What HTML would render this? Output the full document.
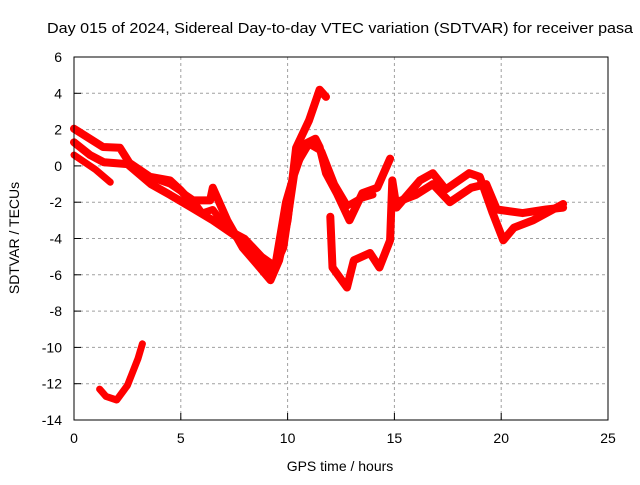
<!DOCTYPE html>
<html><head><meta charset="utf-8"><style>
body{margin:0;background:#fff}
svg text{font-family:"Liberation Sans",sans-serif;font-size:14px;fill:#000}
</style></head><body>
<svg id="chart" width="640" height="480" viewBox="0 0 640 480" xmlns="http://www.w3.org/2000/svg">
<text x="47" y="33" textLength="586" lengthAdjust="spacingAndGlyphs" style="font-size:15px">Day 015 of 2024, Sidereal Day-to-day VTEC variation (SDTVAR) for receiver pasa</text>
<text x="340" y="471" text-anchor="middle">GPS time / hours</text>
<text transform="translate(19,238) rotate(-90)" text-anchor="middle">SDTVAR / TECUs</text>
<g id="grid"></g><g id="marks"></g>
<rect x="74" y="57" width="534" height="363" fill="none" stroke="#000" stroke-width="1"/>
</svg>
<script>
const xTicks=[0,5,10,15,20,25];
const yTicks=[6,4,2,0,-2,-4,-6,-8,-10,-12,-14];
const bandUpperH=[0,1.36,2.15,2.6,3.56,4.5,4.96,5.43,6.37,6.5,7.17,7.9,8.7,9.2,9.6,10.0,10.4,11.0,11.5,11.8];
const bandUpperV=[2.05,1.04,1.0,0.16,-0.6,-0.8,-1.3,-1.9,-1.9,-1.2,-3.0,-4.5,-5.6,-6.3,-5.2,-3.0,1.0,2.5,4.2,3.8];
const bandMidH=[0,0.75,1.4,2.5,3.6,4.5,5.5,6.5,7.5,8.5,9.3,9.8,10.3,10.8,11.3,11.5,11.8,12.3,12.9,13.5,14.2,14.8];
const bandMidV=[1.3,0.6,0.2,0.1,-1.0,-1.6,-2.3,-3.0,-3.8,-4.8,-5.8,-4.5,-0.5,1.2,1.5,1.04,-0.4,-1.5,-3.0,-1.5,-1.2,0.4];
const bandThirdH=[2.5,3.5,4.5,5.5,6.0,6.5,7.2,8.0,8.8,9.4,9.9,10.4,11.0,11.6,12.2,12.8,13.4,14.0];
const bandThirdV=[0.2,-0.6,-1.0,-1.8,-2.6,-2.4,-3.5,-4.0,-5.0,-5.5,-2.0,0.0,1.2,0.8,-1.0,-2.2,-1.8,-1.6];
const bandLowH=[0,1,1.7];
const bandLowV=[0.6,-0.2,-0.9];
const dropH=[12.0,12.1,12.78,13.1,13.86,14.3,14.8,14.9,15.1,16.2,16.8,17.4,18.5,19.0,19.6,20.1,20.6,21.5,22.9];
const dropV=[-2.8,-5.6,-6.7,-5.2,-4.8,-5.6,-4.1,-0.8,-2.3,-0.8,-0.4,-1.3,-0.4,-0.6,-2.6,-4.1,-3.4,-3.0,-2.1];
const tailH=[15.1,16.0,16.8,17.6,18.6,19.3,19.8,21.0,22.1,22.9];
const tailV=[-2.0,-1.6,-1.0,-2.0,-1.2,-1.0,-2.4,-2.6,-2.4,-2.3];
const islandH=[1.2,1.5,2.0,2.5,3.0,3.2];
const islandV=[-12.3,-12.7,-12.9,-12.1,-10.6,-9.8];
const NS='http://www.w3.org/2000/svg';
const X=h=>74+h*534/25, Y=v=>57+(6-v)*363/20;
const grid=document.getElementById('grid'), marks=document.getElementById('marks');
function mk(t,a,p){const e=document.createElementNS(NS,t);for(const k in a)e.setAttribute(k,a[k]);p.appendChild(e);return e;}
xTicks.forEach(t=>{
 if(t>0&&t<25){const l=mk('line',{x1:X(t),x2:X(t),y1:57,y2:420,stroke:'#a0a0a0','stroke-dasharray':'3,3'},grid);
 
 }
 const tk=mk('line',{x1:X(t),x2:X(t),y1:420,y2:413,stroke:'#000'},grid);
 
 
 const tx=mk('text',{x:X(t),y:443,'text-anchor':'middle'},grid);tx.textContent=t;
 
 
});
yTicks.forEach(t=>{
 if(t<6&&t>-14){const l=mk('line',{x1:74,x2:608,y1:Y(t),y2:Y(t),stroke:'#a0a0a0','stroke-dasharray':'3,3'},grid);
 
 }
 const tk=mk('line',{x1:74,x2:81,y1:Y(t),y2:Y(t),stroke:'#000'},grid);
 
 
 const tx=mk('text',{x:62,y:Y(t)+5,'text-anchor':'end'},grid);tx.textContent=t;
 
 
});
function trace(hs,vs,name,w){
 const pts=hs.map((h,i)=>X(h).toFixed(1)+','+Y(vs[i]).toFixed(1)).join(' ');
 const p=mk('polyline',{points:pts,fill:'none',stroke:'#ff0000','stroke-width':w,'stroke-linejoin':'round','stroke-linecap':'round'},marks);
 
 
}
trace(bandUpperH,bandUpperV,'sdtvar-band-upper',8);
trace(bandMidH,bandMidV,'sdtvar-band-middle',8);
trace(bandThirdH,bandThirdV,'sdtvar-band-third',7);
trace(bandLowH,bandLowV,'sdtvar-band-lower',7);
trace(dropH,dropV,'sdtvar-drop-branch',8);
trace(tailH,tailV,'sdtvar-tail-branch',8);
trace(islandH,islandV,'sdtvar-isolated-segment',7);
</script>
</body></html>
